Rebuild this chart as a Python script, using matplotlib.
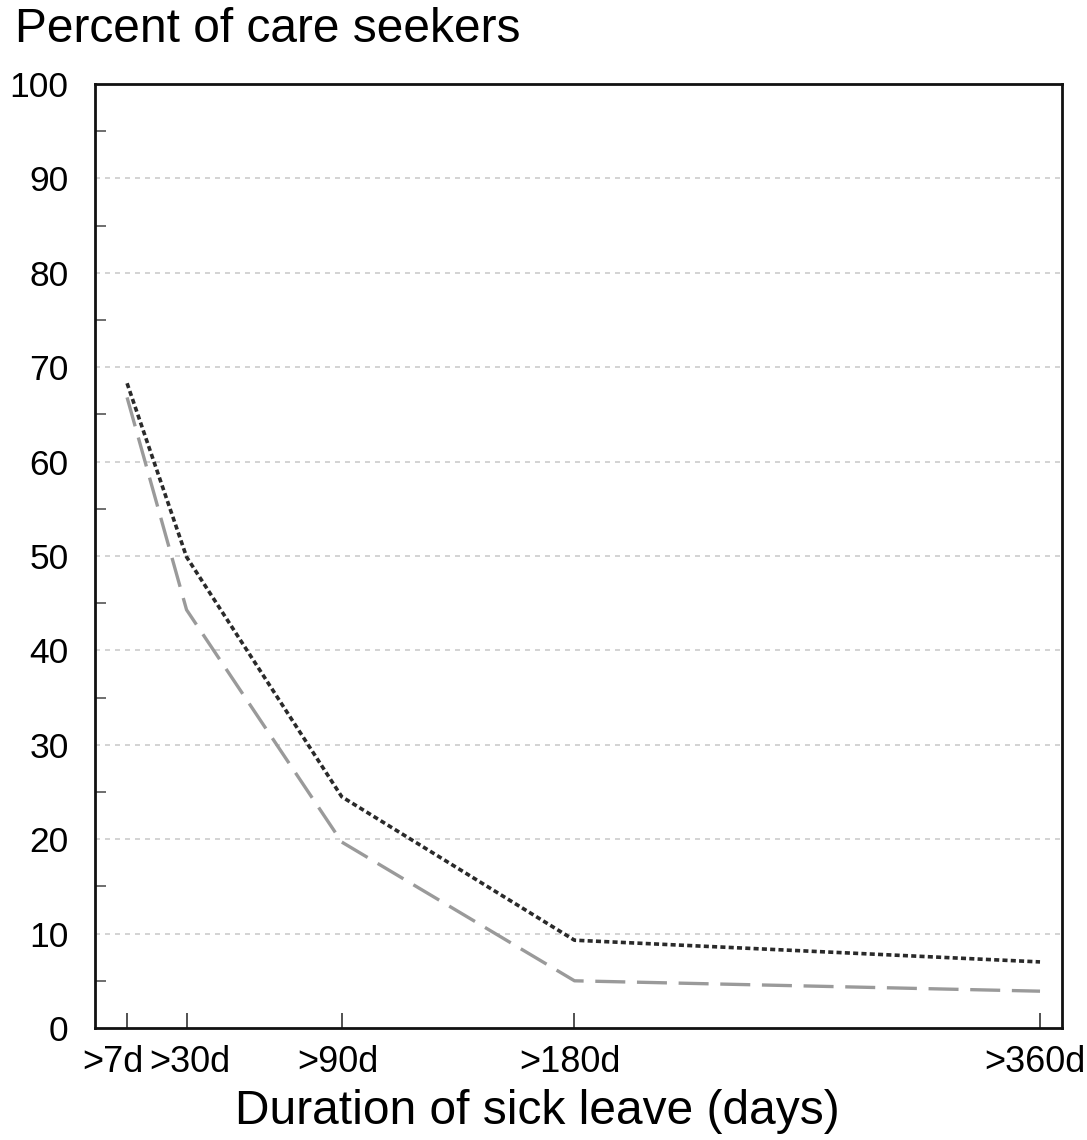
import matplotlib
matplotlib.use("Agg")
import matplotlib.pyplot as plt
from matplotlib.ticker import MultipleLocator
from matplotlib.transforms import ScaledTranslation

plt.rcParams['font.family'] = ['Liberation Sans', 'DejaVu Sans']

days = [7, 30, 90, 180, 360]
tick_labels = [">7d", ">30d", ">90d", ">180d", ">360d"]
series_dark = [68.3, 49.9, 24.5, 9.3, 7.0]
series_gray = [66.8, 44.3, 19.7, 5.0, 3.9]

fig = plt.figure(figsize=(10.87, 11.40), dpi=100)
ax = fig.add_axes([95/1087, 112/1140, (1062-95)/1087, (1028-84)/1140])

ax.set_xlim(-5.4, 368.5)
ax.set_ylim(0, 100)

for yv in range(10, 100, 10):
    ax.axhline(yv, color='#cccccc', lw=1.2, dashes=(3, 3), zorder=1)

ax.plot(days, series_gray, color='#9a9a9a', lw=2.4, dashes=(9, 3.5),
        solid_capstyle='butt', dash_capstyle='butt', zorder=2)
ax.plot(days, series_dark, color='#2a2a2a', lw=2.6, dashes=(1.4, 0.9),
        dash_capstyle='butt', zorder=3)

ax.set_xticks(days)
ax.set_xticklabels(tick_labels)
ax.yaxis.set_major_locator(MultipleLocator(10))
ax.yaxis.set_minor_locator(MultipleLocator(5))

ax.tick_params(axis='x', direction='in', length=11, width=1.2, color='#333333',
               labelsize=26, pad=12)
ax.tick_params(axis='y', which='major', direction='in', length=0,
               labelsize=25.5, pad=19)
ax.tick_params(axis='y', which='minor', direction='in', length=8, width=1.2,
               color='#555555')
ax.tick_params(top=False, right=False)

# nudge labels slightly left as in the reference (first one more, to avoid overlap)
shifts = [-14, 3, -4, -5, -5]
for lab, dx in zip(ax.get_xticklabels(), shifts):
    lab.set_transform(lab.get_transform() + ScaledTranslation(dx / 100, 0, fig.dpi_scale_trans))

for s in ax.spines.values():
    s.set_linewidth(2.0)
    s.set_color('#111111')

fig.text(15/1087, 1 - 30/1140, "Percent of care seekers", fontsize=34.5,
         ha='left', va='center')
fig.text(537/1087, 1 - 1112/1140, "Duration of sick leave (days)", fontsize=34.5,
         ha='center', va='center')

fig.savefig("out.png", dpi=100)
